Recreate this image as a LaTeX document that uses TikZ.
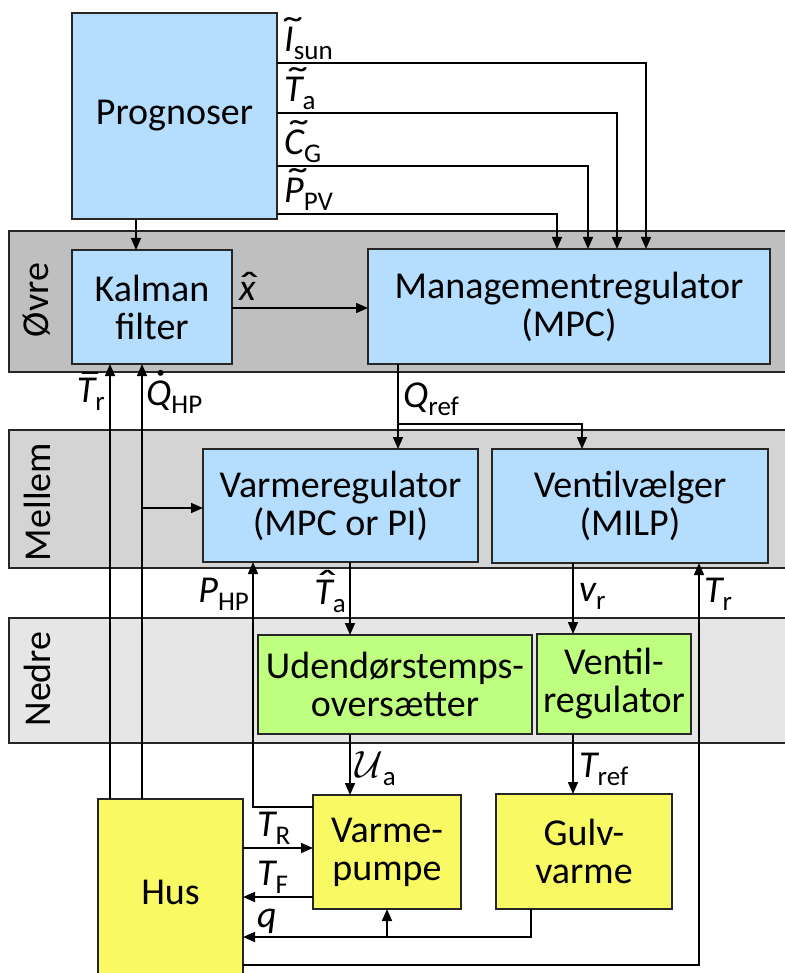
\RequirePackage{fix-cm}
\documentclass[tikz,border=0pt]{standalone}
\usepackage{graphicx}
\usepackage{fontspec}
\setmainfont{Carlito}
\usetikzlibrary{arrows.meta}
\definecolor{boxblue}{RGB}{181,221,254}
\definecolor{boxgreen}{RGB}{190,255,128}
\definecolor{boxyellow}{RGB}{249,249,100}
\definecolor{bandA}{RGB}{191,191,191}
\definecolor{bandB}{RGB}{212,212,212}
\definecolor{bandC}{RGB}{230,230,230}
\newcommand\sbs[1]{\raisebox{-8pt}{\upshape\fontsize{27}{27}\selectfont #1}}
% #1 accent, #2 raise, #3 kern (shift = half), #4 base letter
\newcommand\putacc[4]{\leavevmode\setbox0=\hbox{\itshape #4}\hbox{\rlap{\hbox to\wd0{\hss\kern#3\raisebox{#2}{\upshape #1}\hss}}\box0}}
\newcommand\tildeacc{\scalebox{1.7}[1.1]{^^^^02dc}}
\newcommand\hatacc{\scalebox{1.5}[1.1]{^^^^02c6}}
\newcommand\baracc{\scalebox{1.6}[1]{^^^^00af}}
\newcommand\dotacc{\scalebox{1.3}{^^^^02d9}}
\begin{document}
\begin{tikzpicture}[x=1pt,y=-1pt,
  blk/.style={draw=black!85, line width=1.3pt, inner sep=0pt, outer sep=0pt, align=center, font=\fontsize{38}{38}\selectfont},
  bluebox/.style={blk, fill=boxblue},
  greenbox/.style={blk, fill=boxgreen},
  yellowbox/.style={blk, fill=boxyellow},
  band/.style={draw=black!85, line width=1.3pt},
  bandlbl/.style={rotate=90, inner sep=0pt, font=\fontsize{38}{38}\selectfont},
  lbl/.style={font=\fontsize{38}{40}\selectfont, inner sep=2pt},
  arr/.style={line width=1.6pt, -{Triangle[length=12pt,width=10pt]}},
  ln/.style={line width=1.6pt}]
\useasboundingbox (0,0) rectangle (784,973);
% bands
\fill[white] (0,0) rectangle (784,973);
\draw[band, fill=bandA] (9,231) rectangle (792,372);
\draw[band, fill=bandB] (9,430) rectangle (792,568);
\draw[band, fill=bandC] (9,618) rectangle (792,743);
\node[bandlbl] (lovre) at (37,300) {Øvre};
\node[bandlbl] (lmellem) at (37,502) {Mellem};
\node[bandlbl] (lnedre) at (37,679) {Nedre};
% boxes
\node[bluebox, minimum width=205pt, minimum height=206pt] (prog) at (174.5,116) {Prognoser};
\node[bluebox, minimum width=160pt, minimum height=114pt] (kal) at (152,307) {Kalman\\filter};
\node[bluebox, minimum width=402pt, minimum height=115pt] (mgmt) at (569,306.5) {Managementregulator\\(MPC)};
\node[bluebox, minimum width=275pt, minimum height=113pt] (varm) at (340.5,505.5) {Varmeregulator\\(MPC or PI)};
\node[bluebox, minimum width=276pt, minimum height=114pt] (vent) at (630,506) {Ventilvælger\\(MILP)};
\node[greenbox, minimum width=274pt, minimum height=99pt] (uden) at (395,684.5) {Udendørstemps-\\oversætter};
\node[greenbox, minimum width=154pt, minimum height=100pt] (vreg) at (614,684) {Ventil-\\regulator};
\node[yellowbox, minimum width=148pt, minimum height=114pt] (vp) at (387,852) {Varme-\\pumpe};
\node[yellowbox, minimum width=176pt, minimum height=115pt] (gulv) at (584,851.5) {Gulv-\\varme};
\node[yellowbox, minimum width=145pt, minimum height=186pt] (hus) at (170.5,892) {Hus};
% forecast connectors
\draw[arr] (prog.east |- 0,63) -| (646,0 |- mgmt.north);
\draw[arr] (prog.east |- 0,113) -| (617,0 |- mgmt.north);
\draw[arr] (prog.east |- 0,166) -| (588,0 |- mgmt.north);
\draw[arr] (prog.east |- 0,214) -| (557,0 |- mgmt.north);
\node[lbl, anchor=south west] (lIsun) at (282,62) {\putacc{\tildeacc}{6pt}{9pt}{I}\sbs{sun}};
\node[lbl, anchor=south west] (lTa) at (282,112) {\putacc{\tildeacc}{6pt}{9pt}{T}\sbs{a}};
\node[lbl, anchor=south west] (lCG) at (282,165) {\putacc{\tildeacc}{6pt}{9pt}{C}\sbs{G}};
\node[lbl, anchor=south west] (lPPV) at (282,213) {\putacc{\tildeacc}{6pt}{9pt}{P}\sbs{PV}};
% upper layer
\draw[arr] (136,0 |- prog.south) -- (136,0 |- kal.north);
\draw[arr] (kal.east |- 0,308) -- (mgmt.west |- 0,308);
\node[lbl, anchor=south west] (lx) at (237,303) {\putacc{\hatacc}{0pt}{4pt}{x}};
\draw[arr] (110,0 |- hus.north) -- (110,0 |- kal.south);
\draw[arr] (142,0 |- hus.north) -- (142,0 |- kal.south);
\draw[arr] (142,508) -- (varm.west |- 0,508);
\node[lbl, anchor=north east] (lTr) at (107,370) {\putacc{\baracc}{6pt}{8pt}{T}\sbs{r}};
\node[lbl, anchor=north west] (lQHP) at (144,368) {\putacc{\dotacc}{1pt}{4pt}{Q}\sbs{HP}};
% Q_ref
\draw[arr] (398,0 |- mgmt.south) -- (398,0 |- varm.north);
\draw[arr] (398,424) -| (582,0 |- vent.north);
\node[lbl, anchor=west] (lQref) at (401,399) {\itshape Q\sbs{ref}};
% middle layer
\draw[arr] (vp.west |- 0,807) -| (253,0 |- varm.south);
\node[lbl, anchor=east] (lPHP) at (251,594) {\itshape P\sbs{HP}};
\draw[arr] (350,0 |- varm.south) -- (350,0 |- uden.north);
\node[lbl, anchor=east] (lTahat) at (348,591) {\putacc{\hatacc}{6pt}{9pt}{T}\sbs{a}};
\draw[arr] (573,0 |- vent.south) -- (573,0 |- vreg.north);
\node[lbl, anchor=west] (lvr) at (577,596) {\itshape v\sbs{r}};
\draw[arr] (hus.east |- 0,965) -| (699,0 |- vent.south);
\node[lbl, anchor=west] (lTr2) at (702,594) {\itshape T\sbs{r}};
% lower layer
\draw[arr] (350,0 |- uden.south) -- (350,0 |- vp.north);
\node[lbl, anchor=west] (lUa) at (353,769) {$\mathcal{U}$\sbs{a}};
\draw[arr] (573,0 |- vreg.south) -- (573,0 |- gulv.north);
\node[lbl, anchor=west] (lTref) at (577,769) {\itshape T\sbs{ref}};
% house connections
\draw[arr] (hus.east |- 0,848) -- (vp.west |- 0,848);
\node[lbl, anchor=south west] (lTR) at (255,847) {\itshape T\sbs{R}};
\draw[arr] (vp.west |- 0,897) -- (hus.east |- 0,897);
\node[lbl, anchor=south west] (lTF) at (255,896) {\itshape T\sbs{F}};
\draw[arr] (531,0 |- gulv.south) |- (hus.east |- 0,937);
\draw[arr] (387,937) -- (387,0 |- vp.south);
\node[lbl, anchor=south west] (lq) at (255,936) {\itshape q};
\end{tikzpicture}
\end{document}
